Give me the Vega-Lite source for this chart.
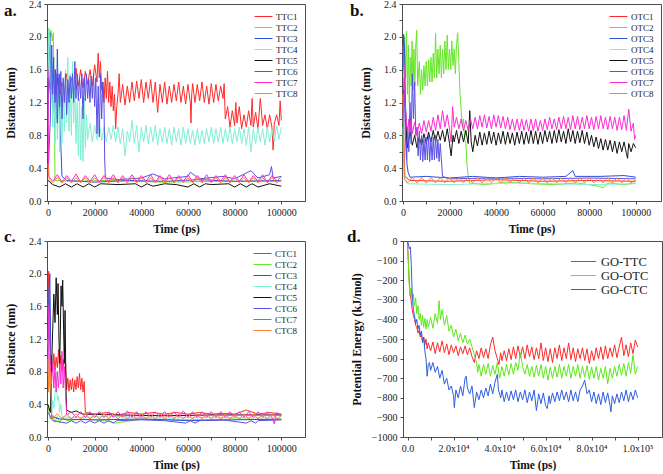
{
"$schema":"https://vega.github.io/schema/vega-lite/v6.json",
"padding":{"left":3,"top":-2,"right":0,"bottom":0},
"background":"white",
"config":{
"font":"Liberation Serif",
"view":{"stroke":"#4d4d4d","strokeWidth":1},
"axis":{"labelFont":"Liberation Serif","labelFontSize":10,"labelColor":"#222","titleFont":"Liberation Serif","titleFontWeight":"bold","titleColor":"#111","domainColor":"#4d4d4d","tickColor":"#4d4d4d","tickSize":3,"grid":false,"labelOverlap":false},
"axisX":{"labelPadding":3,"titleFontSize":11.5,"titlePadding":6,"minExtent":16,"maxExtent":16},
"axisY":{"labelPadding":3,"titleFontSize":12,"minExtent":24,"maxExtent":24,"titlePadding":6},
"legend":{"orient":"top-right","labelFont":"Liberation Serif","labelFontSize":9,"labelColor":"#222","symbolType":"M-1.8,0H1.8","symbolSize":100,"symbolStrokeWidth":2,"labelOffset":7,"rowPadding":0,"padding":0,"offset":7},
"title":{"font":"Liberation Serif","fontSize":17,"fontWeight":"bold","anchor":"start","frame":"bounds","color":"#111","offset":0},
"line":{"strokeWidth":1,"clip":true}
},
"datasets":{
"a":[
{"s":"TTC1","t":0,"v":1.65},{"s":"TTC1","t":1000,"v":1.3},{"s":"TTC1","t":2000,"v":1.55},{"s":"TTC1","t":3000,"v":1.2},{"s":"TTC1","t":4000,"v":1.5},{"s":"TTC1","t":5000,"v":1.25},{"s":"TTC1","t":6000,"v":1.45},{"s":"TTC1","t":7000,"v":1.3},{"s":"TTC1","t":8000,"v":1.55},{"s":"TTC1","t":9000,"v":1.35},{"s":"TTC1","t":10000,"v":1.5},{"s":"TTC1","t":11000,"v":1.3},{"s":"TTC1","t":12000,"v":1.62},{"s":"TTC1","t":13000,"v":1.4},{"s":"TTC1","t":14000,"v":1.6},{"s":"TTC1","t":15000,"v":1.38},{"s":"TTC1","t":16000,"v":1.58},{"s":"TTC1","t":17000,"v":1.42},{"s":"TTC1","t":18000,"v":1.6},{"s":"TTC1","t":19000,"v":1.4},{"s":"TTC1","t":20000,"v":1.66},{"s":"TTC1","t":21000,"v":1.45},{"s":"TTC1","t":21500,"v":1.8},{"s":"TTC1","t":22000,"v":1.5},{"s":"TTC1","t":22500,"v":1.7},{"s":"TTC1","t":23000,"v":1.35},{"s":"TTC1","t":23500,"v":1.45},{"s":"TTC1","t":24000,"v":1.2},{"s":"TTC1","t":24500,"v":1.5},{"s":"TTC1","t":25000,"v":1.25},{"s":"TTC1","t":25500,"v":1.58},{"s":"TTC1","t":26000,"v":1.2},{"s":"TTC1","t":26500,"v":1.45},{"s":"TTC1","t":27000,"v":1.15},{"s":"TTC1","t":27500,"v":1.4},{"s":"TTC1","t":28000,"v":1.1},{"s":"TTC1","t":28500,"v":1.3},{"s":"TTC1","t":29000,"v":0.88},{"s":"TTC1","t":29500,"v":1.15},{"s":"TTC1","t":30000,"v":1.3},{"s":"TTC1","t":30500,"v":1.55},{"s":"TTC1","t":31000,"v":1.2},{"s":"TTC1","t":32000,"v":1.42},{"s":"TTC1","t":33000,"v":1.17},{"s":"TTC1","t":34000,"v":1.4},{"s":"TTC1","t":35000,"v":1.2},{"s":"TTC1","t":36000,"v":1.45},{"s":"TTC1","t":37000,"v":1.22},{"s":"TTC1","t":38000,"v":1.46},{"s":"TTC1","t":39000,"v":1.25},{"s":"TTC1","t":40000,"v":1.48},{"s":"TTC1","t":41000,"v":1.2},{"s":"TTC1","t":42000,"v":1.45},{"s":"TTC1","t":43000,"v":1.25},{"s":"TTC1","t":44000,"v":1.48},{"s":"TTC1","t":45000,"v":1.2},{"s":"TTC1","t":46000,"v":1.45},{"s":"TTC1","t":47000,"v":1.08},{"s":"TTC1","t":48000,"v":1.42},{"s":"TTC1","t":49000,"v":1.2},{"s":"TTC1","t":50000,"v":1.45},{"s":"TTC1","t":51000,"v":1.18},{"s":"TTC1","t":52000,"v":1.4},{"s":"TTC1","t":53000,"v":1.2},{"s":"TTC1","t":54000,"v":1.42},{"s":"TTC1","t":55000,"v":1.22},{"s":"TTC1","t":56000,"v":1.45},{"s":"TTC1","t":57000,"v":1.2},{"s":"TTC1","t":58000,"v":1.4},{"s":"TTC1","t":59000,"v":1.18},{"s":"TTC1","t":60000,"v":1.42},{"s":"TTC1","t":61000,"v":1.2},{"s":"TTC1","t":61300,"v":0.95},{"s":"TTC1","t":61600,"v":1.3},{"s":"TTC1","t":62000,"v":1.43},{"s":"TTC1","t":63000,"v":1.2},{"s":"TTC1","t":64000,"v":1.42},{"s":"TTC1","t":65000,"v":1.22},{"s":"TTC1","t":66000,"v":1.45},{"s":"TTC1","t":67000,"v":1.2},{"s":"TTC1","t":68000,"v":1.4},{"s":"TTC1","t":69000,"v":1.18},{"s":"TTC1","t":70000,"v":1.43},{"s":"TTC1","t":71000,"v":1.2},{"s":"TTC1","t":72000,"v":1.42},{"s":"TTC1","t":73000,"v":1.22},{"s":"TTC1","t":74000,"v":1.4},{"s":"TTC1","t":75000,"v":1.25},{"s":"TTC1","t":75500,"v":1.43},{"s":"TTC1","t":76000,"v":1.0},{"s":"TTC1","t":77000,"v":1.15},{"s":"TTC1","t":78000,"v":0.9},{"s":"TTC1","t":79000,"v":1.1},{"s":"TTC1","t":80000,"v":0.92},{"s":"TTC1","t":80500,"v":1.2},{"s":"TTC1","t":81000,"v":0.95},{"s":"TTC1","t":82000,"v":1.15},{"s":"TTC1","t":83000,"v":0.88},{"s":"TTC1","t":84000,"v":1.05},{"s":"TTC1","t":85000,"v":0.9},{"s":"TTC1","t":86000,"v":1.1},{"s":"TTC1","t":87000,"v":0.92},{"s":"TTC1","t":87500,"v":1.25},{"s":"TTC1","t":88000,"v":0.9},{"s":"TTC1","t":89000,"v":1.08},{"s":"TTC1","t":90000,"v":0.88},{"s":"TTC1","t":91000,"v":1.25},{"s":"TTC1","t":92000,"v":0.92},{"s":"TTC1","t":93000,"v":1.05},{"s":"TTC1","t":94000,"v":0.88},{"s":"TTC1","t":95000,"v":1.05},{"s":"TTC1","t":96000,"v":0.9},{"s":"TTC1","t":96500,"v":0.62},{"s":"TTC1","t":97000,"v":0.95},{"s":"TTC1","t":98000,"v":1.05},{"s":"TTC1","t":99000,"v":0.92},{"s":"TTC1","t":99500,"v":1.22},{"s":"TTC1","t":100000,"v":0.98},
{"s":"TTC2","t":0,"v":1.8},{"s":"TTC2","t":300,"v":2.1},{"s":"TTC2","t":800,"v":2.0},{"s":"TTC2","t":1300,"v":2.08},{"s":"TTC2","t":1800,"v":1.95},{"s":"TTC2","t":2300,"v":2.05},{"s":"TTC2","t":2700,"v":1.2},{"s":"TTC2","t":3000,"v":0.25},{"s":"TTC2","t":10000,"v":0.24},{"s":"TTC2","t":25000,"v":0.25},{"s":"TTC2","t":50000,"v":0.23},{"s":"TTC2","t":75000,"v":0.24},{"s":"TTC2","t":100000,"v":0.24},
{"s":"TTC3","t":0,"v":1.0},{"s":"TTC3","t":400,"v":1.7},{"s":"TTC3","t":800,"v":2.05},{"s":"TTC3","t":1200,"v":1.4},{"s":"TTC3","t":1600,"v":1.9},{"s":"TTC3","t":2000,"v":1.1},{"s":"TTC3","t":2400,"v":1.75},{"s":"TTC3","t":2800,"v":0.9},{"s":"TTC3","t":3200,"v":1.6},{"s":"TTC3","t":3600,"v":1.0},{"s":"TTC3","t":4000,"v":1.85},{"s":"TTC3","t":4400,"v":1.2},{"s":"TTC3","t":4800,"v":1.55},{"s":"TTC3","t":5200,"v":0.9},{"s":"TTC3","t":5600,"v":0.6},{"s":"TTC3","t":6000,"v":0.3},{"s":"TTC3","t":8000,"v":0.25},{"s":"TTC3","t":20000,"v":0.23},{"s":"TTC3","t":35000,"v":0.25},{"s":"TTC3","t":50000,"v":0.24},{"s":"TTC3","t":65000,"v":0.26},{"s":"TTC3","t":80000,"v":0.24},{"s":"TTC3","t":100000,"v":0.25},
{"s":"TTC4","t":0,"v":1.5},{"s":"TTC4","t":400,"v":2.1},{"s":"TTC4","t":800,"v":1.85},{"s":"TTC4","t":1200,"v":1.2},{"s":"TTC4","t":1600,"v":1.75},{"s":"TTC4","t":2000,"v":0.9},{"s":"TTC4","t":2500,"v":1.5},{"s":"TTC4","t":3000,"v":0.7},{"s":"TTC4","t":3500,"v":1.3},{"s":"TTC4","t":4000,"v":0.75},{"s":"TTC4","t":4500,"v":1.45},{"s":"TTC4","t":5000,"v":0.6},{"s":"TTC4","t":5500,"v":1.3},{"s":"TTC4","t":6000,"v":0.7},{"s":"TTC4","t":6500,"v":1.45},{"s":"TTC4","t":7000,"v":0.85},{"s":"TTC4","t":7500,"v":1.6},{"s":"TTC4","t":8000,"v":0.95},{"s":"TTC4","t":8500,"v":1.75},{"s":"TTC4","t":9000,"v":0.85},{"s":"TTC4","t":9500,"v":1.55},{"s":"TTC4","t":10000,"v":0.8},{"s":"TTC4","t":10500,"v":1.7},{"s":"TTC4","t":11000,"v":0.95},{"s":"TTC4","t":11500,"v":1.45},{"s":"TTC4","t":12000,"v":0.7},{"s":"TTC4","t":12500,"v":1.2},{"s":"TTC4","t":13000,"v":0.55},{"s":"TTC4","t":13500,"v":1.25},{"s":"TTC4","t":14000,"v":0.5},{"s":"TTC4","t":14500,"v":1.15},{"s":"TTC4","t":15000,"v":0.48},{"s":"TTC4","t":15500,"v":1.25},{"s":"TTC4","t":16000,"v":0.65},{"s":"TTC4","t":16500,"v":1.05},{"s":"TTC4","t":17000,"v":0.75},{"s":"TTC4","t":18000,"v":0.95},{"s":"TTC4","t":19000,"v":0.72},{"s":"TTC4","t":20000,"v":0.92},{"s":"TTC4","t":21000,"v":0.75},{"s":"TTC4","t":22000,"v":0.95},{"s":"TTC4","t":23000,"v":0.74},{"s":"TTC4","t":24000,"v":0.9},{"s":"TTC4","t":25000,"v":0.72},{"s":"TTC4","t":26000,"v":0.9},{"s":"TTC4","t":27000,"v":0.75},{"s":"TTC4","t":28000,"v":0.92},{"s":"TTC4","t":29000,"v":0.72},{"s":"TTC4","t":30000,"v":0.9},{"s":"TTC4","t":31000,"v":0.7},{"s":"TTC4","t":32000,"v":0.88},{"s":"TTC4","t":33000,"v":0.55},{"s":"TTC4","t":34000,"v":0.85},{"s":"TTC4","t":35000,"v":0.72},{"s":"TTC4","t":36000,"v":0.98},{"s":"TTC4","t":37000,"v":0.7},{"s":"TTC4","t":38000,"v":0.92},{"s":"TTC4","t":39000,"v":0.6},{"s":"TTC4","t":40000,"v":0.9},{"s":"TTC4","t":41000,"v":0.72},{"s":"TTC4","t":42000,"v":0.92},{"s":"TTC4","t":43000,"v":0.7},{"s":"TTC4","t":44000,"v":0.9},{"s":"TTC4","t":45000,"v":0.72},{"s":"TTC4","t":46000,"v":0.92},{"s":"TTC4","t":47000,"v":0.68},{"s":"TTC4","t":48000,"v":0.88},{"s":"TTC4","t":49000,"v":0.72},{"s":"TTC4","t":50000,"v":0.9},{"s":"TTC4","t":51000,"v":0.7},{"s":"TTC4","t":52000,"v":0.88},{"s":"TTC4","t":53000,"v":0.68},{"s":"TTC4","t":54000,"v":0.9},{"s":"TTC4","t":55000,"v":0.72},{"s":"TTC4","t":56000,"v":0.88},{"s":"TTC4","t":57000,"v":0.68},{"s":"TTC4","t":58000,"v":0.9},{"s":"TTC4","t":59000,"v":0.7},{"s":"TTC4","t":60000,"v":0.88},{"s":"TTC4","t":61000,"v":0.7},{"s":"TTC4","t":62000,"v":0.86},{"s":"TTC4","t":63000,"v":0.68},{"s":"TTC4","t":64000,"v":0.88},{"s":"TTC4","t":65000,"v":0.7},{"s":"TTC4","t":66000,"v":0.86},{"s":"TTC4","t":67000,"v":0.7},{"s":"TTC4","t":68000,"v":0.88},{"s":"TTC4","t":69000,"v":0.72},{"s":"TTC4","t":70000,"v":0.9},{"s":"TTC4","t":71000,"v":0.7},{"s":"TTC4","t":72000,"v":0.88},{"s":"TTC4","t":73000,"v":0.72},{"s":"TTC4","t":74000,"v":0.9},{"s":"TTC4","t":75000,"v":0.7},{"s":"TTC4","t":76000,"v":0.88},{"s":"TTC4","t":77000,"v":0.72},{"s":"TTC4","t":78000,"v":0.9},{"s":"TTC4","t":79000,"v":0.7},{"s":"TTC4","t":80000,"v":0.88},{"s":"TTC4","t":81000,"v":0.72},{"s":"TTC4","t":82000,"v":0.9},{"s":"TTC4","t":83000,"v":0.7},{"s":"TTC4","t":84000,"v":0.88},{"s":"TTC4","t":85000,"v":0.68},{"s":"TTC4","t":86000,"v":0.9},{"s":"TTC4","t":87000,"v":0.6},{"s":"TTC4","t":88000,"v":0.88},{"s":"TTC4","t":89000,"v":0.7},{"s":"TTC4","t":90000,"v":0.9},{"s":"TTC4","t":91000,"v":0.72},{"s":"TTC4","t":92000,"v":0.88},{"s":"TTC4","t":93000,"v":0.68},{"s":"TTC4","t":94000,"v":0.9},{"s":"TTC4","t":95000,"v":0.72},{"s":"TTC4","t":96000,"v":0.88},{"s":"TTC4","t":97000,"v":0.72},{"s":"TTC4","t":98000,"v":0.92},{"s":"TTC4","t":99000,"v":0.75},{"s":"TTC4","t":100000,"v":0.9},
{"s":"TTC5","t":0,"v":0.25},{"s":"TTC5","t":2000,"v":0.2},{"s":"TTC5","t":5000,"v":0.17},{"s":"TTC5","t":7500,"v":0.21},{"s":"TTC5","t":10000,"v":0.17},{"s":"TTC5","t":12500,"v":0.21},{"s":"TTC5","t":15000,"v":0.17},{"s":"TTC5","t":17500,"v":0.21},{"s":"TTC5","t":20000,"v":0.17},{"s":"TTC5","t":22500,"v":0.21},{"s":"TTC5","t":30000,"v":0.2},{"s":"TTC5","t":37500,"v":0.21},{"s":"TTC5","t":40000,"v":0.17},{"s":"TTC5","t":42500,"v":0.21},{"s":"TTC5","t":45000,"v":0.18},{"s":"TTC5","t":50000,"v":0.21},{"s":"TTC5","t":55000,"v":0.2},{"s":"TTC5","t":60000,"v":0.17},{"s":"TTC5","t":62500,"v":0.21},{"s":"TTC5","t":65000,"v":0.17},{"s":"TTC5","t":67500,"v":0.21},{"s":"TTC5","t":70000,"v":0.2},{"s":"TTC5","t":77500,"v":0.21},{"s":"TTC5","t":80000,"v":0.17},{"s":"TTC5","t":82500,"v":0.21},{"s":"TTC5","t":85000,"v":0.17},{"s":"TTC5","t":87500,"v":0.21},{"s":"TTC5","t":90000,"v":0.17},{"s":"TTC5","t":95000,"v":0.21},{"s":"TTC5","t":100000,"v":0.18},
{"s":"TTC6","t":0,"v":0.3},{"s":"TTC6","t":1000,"v":1.0},{"s":"TTC6","t":1500,"v":1.85},{"s":"TTC6","t":2000,"v":1.3},{"s":"TTC6","t":2500,"v":1.6},{"s":"TTC6","t":3000,"v":1.2},{"s":"TTC6","t":3500,"v":1.55},{"s":"TTC6","t":4000,"v":0.95},{"s":"TTC6","t":4500,"v":1.5},{"s":"TTC6","t":5000,"v":1.15},{"s":"TTC6","t":5500,"v":1.58},{"s":"TTC6","t":6000,"v":1.0},{"s":"TTC6","t":6500,"v":1.5},{"s":"TTC6","t":7000,"v":1.2},{"s":"TTC6","t":7500,"v":1.55},{"s":"TTC6","t":8000,"v":1.05},{"s":"TTC6","t":8500,"v":1.48},{"s":"TTC6","t":9000,"v":1.2},{"s":"TTC6","t":9500,"v":1.52},{"s":"TTC6","t":10000,"v":1.25},{"s":"TTC6","t":10500,"v":1.55},{"s":"TTC6","t":11000,"v":1.2},{"s":"TTC6","t":11500,"v":1.7},{"s":"TTC6","t":12000,"v":1.25},{"s":"TTC6","t":12500,"v":1.55},{"s":"TTC6","t":13000,"v":1.22},{"s":"TTC6","t":13500,"v":1.5},{"s":"TTC6","t":14000,"v":1.25},{"s":"TTC6","t":14500,"v":1.55},{"s":"TTC6","t":15000,"v":1.0},{"s":"TTC6","t":15500,"v":1.5},{"s":"TTC6","t":16000,"v":1.22},{"s":"TTC6","t":16500,"v":1.55},{"s":"TTC6","t":17000,"v":1.25},{"s":"TTC6","t":17500,"v":1.48},{"s":"TTC6","t":18000,"v":1.2},{"s":"TTC6","t":18500,"v":1.52},{"s":"TTC6","t":19000,"v":1.25},{"s":"TTC6","t":19500,"v":1.55},{"s":"TTC6","t":20000,"v":1.15},{"s":"TTC6","t":20500,"v":1.5},{"s":"TTC6","t":21000,"v":0.82},{"s":"TTC6","t":21500,"v":1.4},{"s":"TTC6","t":22000,"v":0.78},{"s":"TTC6","t":22500,"v":1.55},{"s":"TTC6","t":23000,"v":1.0},{"s":"TTC6","t":23500,"v":1.45},{"s":"TTC6","t":24000,"v":1.2},{"s":"TTC6","t":24300,"v":0.5},{"s":"TTC6","t":24600,"v":0.28},{"s":"TTC6","t":30000,"v":0.26},{"s":"TTC6","t":40000,"v":0.28},{"s":"TTC6","t":45000,"v":0.33},{"s":"TTC6","t":50000,"v":0.27},{"s":"TTC6","t":60000,"v":0.3},{"s":"TTC6","t":61000,"v":0.35},{"s":"TTC6","t":65000,"v":0.27},{"s":"TTC6","t":75000,"v":0.3},{"s":"TTC6","t":80000,"v":0.27},{"s":"TTC6","t":87000,"v":0.37},{"s":"TTC6","t":90000,"v":0.28},{"s":"TTC6","t":95000,"v":0.32},{"s":"TTC6","t":95800,"v":0.42},{"s":"TTC6","t":96500,"v":0.28},{"s":"TTC6","t":100000,"v":0.3},
{"s":"TTC7","t":0,"v":1.6},{"s":"TTC7","t":300,"v":0.3},{"s":"TTC7","t":2000,"v":0.24},{"s":"TTC7","t":4000,"v":0.32},{"s":"TTC7","t":6000,"v":0.23},{"s":"TTC7","t":8000,"v":0.31},{"s":"TTC7","t":10000,"v":0.24},{"s":"TTC7","t":12000,"v":0.33},{"s":"TTC7","t":14000,"v":0.23},{"s":"TTC7","t":16000,"v":0.31},{"s":"TTC7","t":18000,"v":0.24},{"s":"TTC7","t":20000,"v":0.32},{"s":"TTC7","t":22000,"v":0.23},{"s":"TTC7","t":24000,"v":0.31},{"s":"TTC7","t":26000,"v":0.24},{"s":"TTC7","t":28000,"v":0.32},{"s":"TTC7","t":30000,"v":0.23},{"s":"TTC7","t":32000,"v":0.31},{"s":"TTC7","t":34000,"v":0.24},{"s":"TTC7","t":36000,"v":0.32},{"s":"TTC7","t":38000,"v":0.23},{"s":"TTC7","t":40000,"v":0.31},{"s":"TTC7","t":42000,"v":0.24},{"s":"TTC7","t":44000,"v":0.32},{"s":"TTC7","t":46000,"v":0.23},{"s":"TTC7","t":48000,"v":0.31},{"s":"TTC7","t":50000,"v":0.24},{"s":"TTC7","t":52000,"v":0.32},{"s":"TTC7","t":54000,"v":0.23},{"s":"TTC7","t":56000,"v":0.31},{"s":"TTC7","t":58000,"v":0.24},{"s":"TTC7","t":60000,"v":0.32},{"s":"TTC7","t":62000,"v":0.23},{"s":"TTC7","t":64000,"v":0.31},{"s":"TTC7","t":66000,"v":0.24},{"s":"TTC7","t":68000,"v":0.32},{"s":"TTC7","t":70000,"v":0.23},{"s":"TTC7","t":72000,"v":0.31},{"s":"TTC7","t":74000,"v":0.24},{"s":"TTC7","t":76000,"v":0.32},{"s":"TTC7","t":78000,"v":0.23},{"s":"TTC7","t":80000,"v":0.31},{"s":"TTC7","t":82000,"v":0.24},{"s":"TTC7","t":84000,"v":0.32},{"s":"TTC7","t":86000,"v":0.23},{"s":"TTC7","t":88000,"v":0.31},{"s":"TTC7","t":90000,"v":0.24},{"s":"TTC7","t":92000,"v":0.32},{"s":"TTC7","t":94000,"v":0.23},{"s":"TTC7","t":96000,"v":0.31},{"s":"TTC7","t":98000,"v":0.24},{"s":"TTC7","t":100000,"v":0.3},
{"s":"TTC8","t":0,"v":0.45},{"s":"TTC8","t":500,"v":0.26},{"s":"TTC8","t":2000,"v":0.22},{"s":"TTC8","t":4000,"v":0.285},{"s":"TTC8","t":6000,"v":0.22},{"s":"TTC8","t":8000,"v":0.285},{"s":"TTC8","t":10000,"v":0.22},{"s":"TTC8","t":12000,"v":0.285},{"s":"TTC8","t":14000,"v":0.22},{"s":"TTC8","t":16000,"v":0.285},{"s":"TTC8","t":18000,"v":0.22},{"s":"TTC8","t":20000,"v":0.285},{"s":"TTC8","t":22000,"v":0.22},{"s":"TTC8","t":24000,"v":0.285},{"s":"TTC8","t":26000,"v":0.22},{"s":"TTC8","t":28000,"v":0.285},{"s":"TTC8","t":30000,"v":0.22},{"s":"TTC8","t":32000,"v":0.285},{"s":"TTC8","t":34000,"v":0.22},{"s":"TTC8","t":36000,"v":0.285},{"s":"TTC8","t":38000,"v":0.22},{"s":"TTC8","t":40000,"v":0.285},{"s":"TTC8","t":42000,"v":0.22},{"s":"TTC8","t":44000,"v":0.285},{"s":"TTC8","t":46000,"v":0.22},{"s":"TTC8","t":48000,"v":0.285},{"s":"TTC8","t":50000,"v":0.22},{"s":"TTC8","t":52000,"v":0.285},{"s":"TTC8","t":54000,"v":0.22},{"s":"TTC8","t":56000,"v":0.285},{"s":"TTC8","t":58000,"v":0.22},{"s":"TTC8","t":60000,"v":0.285},{"s":"TTC8","t":62000,"v":0.22},{"s":"TTC8","t":64000,"v":0.285},{"s":"TTC8","t":66000,"v":0.22},{"s":"TTC8","t":68000,"v":0.285},{"s":"TTC8","t":70000,"v":0.22},{"s":"TTC8","t":72000,"v":0.285},{"s":"TTC8","t":74000,"v":0.22},{"s":"TTC8","t":76000,"v":0.285},{"s":"TTC8","t":78000,"v":0.22},{"s":"TTC8","t":80000,"v":0.285},{"s":"TTC8","t":82000,"v":0.22},{"s":"TTC8","t":84000,"v":0.285},{"s":"TTC8","t":86000,"v":0.22},{"s":"TTC8","t":88000,"v":0.285},{"s":"TTC8","t":90000,"v":0.22},{"s":"TTC8","t":92000,"v":0.285},{"s":"TTC8","t":94000,"v":0.22},{"s":"TTC8","t":96000,"v":0.285},{"s":"TTC8","t":98000,"v":0.22},{"s":"TTC8","t":100000,"v":0.26}
],
"b":[
{"s":"OTC1","t":0,"v":1.3},{"s":"OTC1","t":300,"v":0.8},{"s":"OTC1","t":800,"v":0.3},{"s":"OTC1","t":3000,"v":0.25},{"s":"OTC1","t":20000,"v":0.24},{"s":"OTC1","t":40000,"v":0.26},{"s":"OTC1","t":60000,"v":0.24},{"s":"OTC1","t":80000,"v":0.25},{"s":"OTC1","t":100000,"v":0.24},
{"s":"OTC2","t":0,"v":0.6},{"s":"OTC2","t":300,"v":1.2},{"s":"OTC2","t":700,"v":2.0},{"s":"OTC2","t":1100,"v":1.5},{"s":"OTC2","t":1500,"v":2.07},{"s":"OTC2","t":1900,"v":1.3},{"s":"OTC2","t":2300,"v":1.9},{"s":"OTC2","t":2700,"v":1.2},{"s":"OTC2","t":3100,"v":1.75},{"s":"OTC2","t":3500,"v":1.4},{"s":"OTC2","t":3900,"v":1.95},{"s":"OTC2","t":4300,"v":1.35},{"s":"OTC2","t":4700,"v":1.85},{"s":"OTC2","t":5100,"v":1.4},{"s":"OTC2","t":5500,"v":1.9},{"s":"OTC2","t":5900,"v":2.08},{"s":"OTC2","t":6300,"v":1.4},{"s":"OTC2","t":7000,"v":1.7},{"s":"OTC2","t":7500,"v":1.3},{"s":"OTC2","t":8000,"v":1.6},{"s":"OTC2","t":8500,"v":1.35},{"s":"OTC2","t":9000,"v":1.65},{"s":"OTC2","t":9500,"v":1.4},{"s":"OTC2","t":10000,"v":1.7},{"s":"OTC2","t":10500,"v":1.4},{"s":"OTC2","t":11000,"v":1.72},{"s":"OTC2","t":11500,"v":1.45},{"s":"OTC2","t":12000,"v":1.75},{"s":"OTC2","t":12500,"v":1.45},{"s":"OTC2","t":13000,"v":1.8},{"s":"OTC2","t":13500,"v":1.5},{"s":"OTC2","t":14000,"v":2.04},{"s":"OTC2","t":14500,"v":1.5},{"s":"OTC2","t":15000,"v":1.85},{"s":"OTC2","t":15500,"v":1.55},{"s":"OTC2","t":16000,"v":1.9},{"s":"OTC2","t":16500,"v":1.5},{"s":"OTC2","t":17000,"v":1.85},{"s":"OTC2","t":17500,"v":1.55},{"s":"OTC2","t":18000,"v":1.95},{"s":"OTC2","t":18500,"v":1.6},{"s":"OTC2","t":19000,"v":2.02},{"s":"OTC2","t":19500,"v":1.6},{"s":"OTC2","t":20000,"v":1.85},{"s":"OTC2","t":20500,"v":1.6},{"s":"OTC2","t":21000,"v":1.95},{"s":"OTC2","t":21500,"v":1.65},{"s":"OTC2","t":22000,"v":1.85},{"s":"OTC2","t":22500,"v":1.55},{"s":"OTC2","t":23000,"v":1.9},{"s":"OTC2","t":23500,"v":2.05},{"s":"OTC2","t":24000,"v":1.7},{"s":"OTC2","t":24500,"v":1.3},{"s":"OTC2","t":25000,"v":1.1},{"s":"OTC2","t":25500,"v":0.9},{"s":"OTC2","t":26000,"v":1.0},{"s":"OTC2","t":26500,"v":0.75},{"s":"OTC2","t":27000,"v":0.7},{"s":"OTC2","t":27500,"v":0.45},{"s":"OTC2","t":28000,"v":0.3},{"s":"OTC2","t":28500,"v":0.22},{"s":"OTC2","t":35000,"v":0.2},{"s":"OTC2","t":45000,"v":0.23},{"s":"OTC2","t":55000,"v":0.21},{"s":"OTC2","t":65000,"v":0.2},{"s":"OTC2","t":75000,"v":0.22},{"s":"OTC2","t":84000,"v":0.18},{"s":"OTC2","t":86000,"v":0.16},{"s":"OTC2","t":88000,"v":0.22},{"s":"OTC2","t":95000,"v":0.2},{"s":"OTC2","t":100000,"v":0.22},
{"s":"OTC3","t":0,"v":1.6},{"s":"OTC3","t":300,"v":2.03},{"s":"OTC3","t":700,"v":1.8},{"s":"OTC3","t":1200,"v":1.0},{"s":"OTC3","t":1700,"v":0.45},{"s":"OTC3","t":2200,"v":0.35},{"s":"OTC3","t":3000,"v":0.29},{"s":"OTC3","t":10000,"v":0.3},{"s":"OTC3","t":20000,"v":0.28},{"s":"OTC3","t":30000,"v":0.3},{"s":"OTC3","t":40000,"v":0.28},{"s":"OTC3","t":50000,"v":0.3},{"s":"OTC3","t":60000,"v":0.29},{"s":"OTC3","t":70000,"v":0.3},{"s":"OTC3","t":73000,"v":0.37},{"s":"OTC3","t":74000,"v":0.3},{"s":"OTC3","t":85000,"v":0.3},{"s":"OTC3","t":95000,"v":0.31},{"s":"OTC3","t":100000,"v":0.29},
{"s":"OTC4","t":0,"v":1.0},{"s":"OTC4","t":500,"v":0.3},{"s":"OTC4","t":2000,"v":0.21},{"s":"OTC4","t":20000,"v":0.2},{"s":"OTC4","t":50000,"v":0.22},{"s":"OTC4","t":80000,"v":0.2},{"s":"OTC4","t":100000,"v":0.21},
{"s":"OTC5","t":0,"v":0.9},{"s":"OTC5","t":500,"v":1.35},{"s":"OTC5","t":1000,"v":1.2},{"s":"OTC5","t":1500,"v":0.8},{"s":"OTC5","t":2000,"v":0.65},{"s":"OTC5","t":3000,"v":0.85},{"s":"OTC5","t":4000,"v":0.68},{"s":"OTC5","t":5000,"v":0.8},{"s":"OTC5","t":6000,"v":0.65},{"s":"OTC5","t":7000,"v":0.78},{"s":"OTC5","t":8000,"v":0.68},{"s":"OTC5","t":9000,"v":0.82},{"s":"OTC5","t":10000,"v":0.7},{"s":"OTC5","t":11000,"v":0.84},{"s":"OTC5","t":12000,"v":0.72},{"s":"OTC5","t":13000,"v":0.86},{"s":"OTC5","t":14000,"v":0.72},{"s":"OTC5","t":15000,"v":0.85},{"s":"OTC5","t":16000,"v":0.74},{"s":"OTC5","t":17000,"v":0.86},{"s":"OTC5","t":18000,"v":0.72},{"s":"OTC5","t":19000,"v":0.88},{"s":"OTC5","t":20000,"v":0.7},{"s":"OTC5","t":20700,"v":0.55},{"s":"OTC5","t":21500,"v":0.8},{"s":"OTC5","t":22000,"v":0.72},{"s":"OTC5","t":23000,"v":0.86},{"s":"OTC5","t":24000,"v":0.7},{"s":"OTC5","t":25000,"v":0.85},{"s":"OTC5","t":26000,"v":0.72},{"s":"OTC5","t":27000,"v":0.86},{"s":"OTC5","t":28000,"v":0.7},{"s":"OTC5","t":28700,"v":1.1},{"s":"OTC5","t":29300,"v":0.72},{"s":"OTC5","t":30000,"v":0.6},{"s":"OTC5","t":31000,"v":0.8},{"s":"OTC5","t":32000,"v":0.67},{"s":"OTC5","t":33000,"v":0.84},{"s":"OTC5","t":34000,"v":0.68},{"s":"OTC5","t":35000,"v":0.83},{"s":"OTC5","t":36000,"v":0.69},{"s":"OTC5","t":37000,"v":0.85},{"s":"OTC5","t":38000,"v":0.7},{"s":"OTC5","t":39000,"v":0.84},{"s":"OTC5","t":40000,"v":0.68},{"s":"OTC5","t":41000,"v":0.83},{"s":"OTC5","t":42000,"v":0.7},{"s":"OTC5","t":43000,"v":0.85},{"s":"OTC5","t":44000,"v":0.69},{"s":"OTC5","t":45000,"v":0.84},{"s":"OTC5","t":46000,"v":0.7},{"s":"OTC5","t":47000,"v":0.83},{"s":"OTC5","t":48000,"v":0.68},{"s":"OTC5","t":49000,"v":0.84},{"s":"OTC5","t":50000,"v":0.7},{"s":"OTC5","t":51000,"v":0.85},{"s":"OTC5","t":52000,"v":0.69},{"s":"OTC5","t":53000,"v":0.84},{"s":"OTC5","t":54000,"v":0.7},{"s":"OTC5","t":55000,"v":0.86},{"s":"OTC5","t":56000,"v":0.7},{"s":"OTC5","t":57000,"v":0.85},{"s":"OTC5","t":58000,"v":0.69},{"s":"OTC5","t":59000,"v":0.84},{"s":"OTC5","t":60000,"v":0.7},{"s":"OTC5","t":61000,"v":0.86},{"s":"OTC5","t":62000,"v":0.72},{"s":"OTC5","t":63000,"v":0.85},{"s":"OTC5","t":64000,"v":0.7},{"s":"OTC5","t":65000,"v":0.86},{"s":"OTC5","t":66000,"v":0.71},{"s":"OTC5","t":67000,"v":0.87},{"s":"OTC5","t":68000,"v":0.72},{"s":"OTC5","t":69000,"v":0.85},{"s":"OTC5","t":70000,"v":0.7},{"s":"OTC5","t":71000,"v":0.88},{"s":"OTC5","t":72000,"v":0.72},{"s":"OTC5","t":73000,"v":0.86},{"s":"OTC5","t":74000,"v":0.7},{"s":"OTC5","t":75000,"v":0.85},{"s":"OTC5","t":76000,"v":0.71},{"s":"OTC5","t":77000,"v":0.86},{"s":"OTC5","t":78000,"v":0.7},{"s":"OTC5","t":79000,"v":0.84},{"s":"OTC5","t":80000,"v":0.68},{"s":"OTC5","t":81000,"v":0.8},{"s":"OTC5","t":82000,"v":0.66},{"s":"OTC5","t":83000,"v":0.78},{"s":"OTC5","t":84000,"v":0.64},{"s":"OTC5","t":85000,"v":0.76},{"s":"OTC5","t":86000,"v":0.62},{"s":"OTC5","t":87000,"v":0.75},{"s":"OTC5","t":88000,"v":0.62},{"s":"OTC5","t":89000,"v":0.74},{"s":"OTC5","t":90000,"v":0.6},{"s":"OTC5","t":91000,"v":0.73},{"s":"OTC5","t":92000,"v":0.58},{"s":"OTC5","t":93000,"v":0.72},{"s":"OTC5","t":94000,"v":0.6},{"s":"OTC5","t":95000,"v":0.72},{"s":"OTC5","t":96000,"v":0.58},{"s":"OTC5","t":96500,"v":0.52},{"s":"OTC5","t":97000,"v":0.7},{"s":"OTC5","t":98000,"v":0.6},{"s":"OTC5","t":99000,"v":0.7},{"s":"OTC5","t":100000,"v":0.65},
{"s":"OTC6","t":0,"v":1.0},{"s":"OTC6","t":500,"v":1.5},{"s":"OTC6","t":1000,"v":0.8},{"s":"OTC6","t":1500,"v":0.5},{"s":"OTC6","t":2000,"v":0.9},{"s":"OTC6","t":2500,"v":0.6},{"s":"OTC6","t":3000,"v":1.2},{"s":"OTC6","t":3500,"v":0.7},{"s":"OTC6","t":4000,"v":1.55},{"s":"OTC6","t":4500,"v":1.0},{"s":"OTC6","t":5000,"v":1.45},{"s":"OTC6","t":5500,"v":0.8},{"s":"OTC6","t":6000,"v":0.9},{"s":"OTC6","t":6500,"v":0.55},{"s":"OTC6","t":7000,"v":0.85},{"s":"OTC6","t":7500,"v":0.5},{"s":"OTC6","t":8000,"v":0.8},{"s":"OTC6","t":8500,"v":0.48},{"s":"OTC6","t":9000,"v":0.75},{"s":"OTC6","t":9500,"v":0.5},{"s":"OTC6","t":10000,"v":0.78},{"s":"OTC6","t":10500,"v":0.5},{"s":"OTC6","t":11000,"v":0.8},{"s":"OTC6","t":11500,"v":0.48},{"s":"OTC6","t":12000,"v":0.76},{"s":"OTC6","t":12500,"v":0.5},{"s":"OTC6","t":13000,"v":0.78},{"s":"OTC6","t":13500,"v":0.5},{"s":"OTC6","t":14000,"v":0.8},{"s":"OTC6","t":14500,"v":0.52},{"s":"OTC6","t":15000,"v":0.75},{"s":"OTC6","t":15500,"v":0.48},{"s":"OTC6","t":16000,"v":0.7},{"s":"OTC6","t":16500,"v":0.5},{"s":"OTC6","t":17000,"v":0.3},{"s":"OTC6","t":20000,"v":0.27},{"s":"OTC6","t":40000,"v":0.28},{"s":"OTC6","t":60000,"v":0.27},{"s":"OTC6","t":80000,"v":0.28},{"s":"OTC6","t":100000,"v":0.27},
{"s":"OTC7","t":0,"v":1.9},{"s":"OTC7","t":300,"v":1.7},{"s":"OTC7","t":700,"v":1.4},{"s":"OTC7","t":1100,"v":1.1},{"s":"OTC7","t":1500,"v":0.95},{"s":"OTC7","t":2000,"v":0.82},{"s":"OTC7","t":2500,"v":1.0},{"s":"OTC7","t":3000,"v":0.84},{"s":"OTC7","t":3500,"v":0.98},{"s":"OTC7","t":4000,"v":0.82},{"s":"OTC7","t":5000,"v":0.96},{"s":"OTC7","t":6000,"v":0.8},{"s":"OTC7","t":7000,"v":0.95},{"s":"OTC7","t":8000,"v":0.82},{"s":"OTC7","t":9000,"v":0.98},{"s":"OTC7","t":10000,"v":0.84},{"s":"OTC7","t":11000,"v":0.98},{"s":"OTC7","t":12000,"v":0.85},{"s":"OTC7","t":13000,"v":1.02},{"s":"OTC7","t":14000,"v":0.86},{"s":"OTC7","t":15000,"v":1.05},{"s":"OTC7","t":16000,"v":0.88},{"s":"OTC7","t":17000,"v":1.1},{"s":"OTC7","t":18000,"v":0.9},{"s":"OTC7","t":19000,"v":1.05},{"s":"OTC7","t":20000,"v":0.88},{"s":"OTC7","t":20700,"v":0.72},{"s":"OTC7","t":21300,"v":1.15},{"s":"OTC7","t":22000,"v":0.9},{"s":"OTC7","t":23000,"v":1.02},{"s":"OTC7","t":24000,"v":0.88},{"s":"OTC7","t":25000,"v":1.0},{"s":"OTC7","t":26000,"v":0.86},{"s":"OTC7","t":27000,"v":0.98},{"s":"OTC7","t":28000,"v":0.86},{"s":"OTC7","t":29000,"v":1.0},{"s":"OTC7","t":30000,"v":0.88},{"s":"OTC7","t":31000,"v":1.02},{"s":"OTC7","t":32000,"v":0.88},{"s":"OTC7","t":33000,"v":1.04},{"s":"OTC7","t":34000,"v":0.9},{"s":"OTC7","t":35000,"v":1.05},{"s":"OTC7","t":36000,"v":0.89},{"s":"OTC7","t":37000,"v":1.03},{"s":"OTC7","t":38000,"v":0.88},{"s":"OTC7","t":39000,"v":1.05},{"s":"OTC7","t":40000,"v":0.9},{"s":"OTC7","t":41000,"v":1.04},{"s":"OTC7","t":42000,"v":0.89},{"s":"OTC7","t":43000,"v":1.03},{"s":"OTC7","t":44000,"v":0.88},{"s":"OTC7","t":45000,"v":1.02},{"s":"OTC7","t":46000,"v":0.87},{"s":"OTC7","t":47000,"v":1.0},{"s":"OTC7","t":48000,"v":0.86},{"s":"OTC7","t":49000,"v":1.0},{"s":"OTC7","t":50000,"v":0.86},{"s":"OTC7","t":51000,"v":1.0},{"s":"OTC7","t":52000,"v":0.86},{"s":"OTC7","t":53000,"v":0.99},{"s":"OTC7","t":54000,"v":0.85},{"s":"OTC7","t":55000,"v":1.0},{"s":"OTC7","t":56000,"v":0.86},{"s":"OTC7","t":57000,"v":1.0},{"s":"OTC7","t":58000,"v":0.85},{"s":"OTC7","t":59000,"v":0.98},{"s":"OTC7","t":60000,"v":0.86},{"s":"OTC7","t":61000,"v":1.0},{"s":"OTC7","t":62000,"v":0.87},{"s":"OTC7","t":63000,"v":1.02},{"s":"OTC7","t":64000,"v":0.88},{"s":"OTC7","t":65000,"v":1.0},{"s":"OTC7","t":66000,"v":0.87},{"s":"OTC7","t":67000,"v":1.02},{"s":"OTC7","t":68000,"v":0.88},{"s":"OTC7","t":69000,"v":1.03},{"s":"OTC7","t":70000,"v":0.88},{"s":"OTC7","t":71000,"v":1.02},{"s":"OTC7","t":72000,"v":0.87},{"s":"OTC7","t":73000,"v":1.04},{"s":"OTC7","t":74000,"v":0.88},{"s":"OTC7","t":75000,"v":1.03},{"s":"OTC7","t":76000,"v":0.87},{"s":"OTC7","t":77000,"v":1.02},{"s":"OTC7","t":78000,"v":0.88},{"s":"OTC7","t":79000,"v":1.04},{"s":"OTC7","t":80000,"v":0.88},{"s":"OTC7","t":81000,"v":1.02},{"s":"OTC7","t":82000,"v":0.87},{"s":"OTC7","t":83000,"v":1.03},{"s":"OTC7","t":84000,"v":0.88},{"s":"OTC7","t":85000,"v":1.04},{"s":"OTC7","t":86000,"v":0.88},{"s":"OTC7","t":87000,"v":1.02},{"s":"OTC7","t":88000,"v":0.87},{"s":"OTC7","t":89000,"v":1.03},{"s":"OTC7","t":90000,"v":0.88},{"s":"OTC7","t":91000,"v":1.02},{"s":"OTC7","t":92000,"v":0.86},{"s":"OTC7","t":93000,"v":1.02},{"s":"OTC7","t":94000,"v":0.87},{"s":"OTC7","t":95000,"v":1.04},{"s":"OTC7","t":96000,"v":0.86},{"s":"OTC7","t":97000,"v":1.12},{"s":"OTC7","t":98000,"v":0.85},{"s":"OTC7","t":99000,"v":0.95},{"s":"OTC7","t":99500,"v":0.75},{"s":"OTC7","t":100000,"v":0.8},
{"s":"OTC8","t":0,"v":1.3},{"s":"OTC8","t":300,"v":0.6},{"s":"OTC8","t":600,"v":0.26},{"s":"OTC8","t":2000,"v":0.22},{"s":"OTC8","t":4000,"v":0.285},{"s":"OTC8","t":6000,"v":0.22},{"s":"OTC8","t":8000,"v":0.285},{"s":"OTC8","t":10000,"v":0.22},{"s":"OTC8","t":12000,"v":0.285},{"s":"OTC8","t":14000,"v":0.22},{"s":"OTC8","t":16000,"v":0.285},{"s":"OTC8","t":18000,"v":0.22},{"s":"OTC8","t":20000,"v":0.285},{"s":"OTC8","t":22000,"v":0.22},{"s":"OTC8","t":24000,"v":0.285},{"s":"OTC8","t":26000,"v":0.22},{"s":"OTC8","t":28000,"v":0.285},{"s":"OTC8","t":30000,"v":0.22},{"s":"OTC8","t":32000,"v":0.285},{"s":"OTC8","t":34000,"v":0.22},{"s":"OTC8","t":36000,"v":0.285},{"s":"OTC8","t":38000,"v":0.22},{"s":"OTC8","t":40000,"v":0.285},{"s":"OTC8","t":42000,"v":0.22},{"s":"OTC8","t":44000,"v":0.285},{"s":"OTC8","t":46000,"v":0.22},{"s":"OTC8","t":48000,"v":0.285},{"s":"OTC8","t":50000,"v":0.22},{"s":"OTC8","t":52000,"v":0.285},{"s":"OTC8","t":54000,"v":0.22},{"s":"OTC8","t":56000,"v":0.285},{"s":"OTC8","t":58000,"v":0.22},{"s":"OTC8","t":60000,"v":0.285},{"s":"OTC8","t":62000,"v":0.22},{"s":"OTC8","t":64000,"v":0.285},{"s":"OTC8","t":66000,"v":0.22},{"s":"OTC8","t":68000,"v":0.285},{"s":"OTC8","t":70000,"v":0.22},{"s":"OTC8","t":72000,"v":0.285},{"s":"OTC8","t":74000,"v":0.22},{"s":"OTC8","t":76000,"v":0.285},{"s":"OTC8","t":78000,"v":0.22},{"s":"OTC8","t":80000,"v":0.285},{"s":"OTC8","t":82000,"v":0.22},{"s":"OTC8","t":84000,"v":0.285},{"s":"OTC8","t":86000,"v":0.22},{"s":"OTC8","t":88000,"v":0.285},{"s":"OTC8","t":90000,"v":0.22},{"s":"OTC8","t":92000,"v":0.285},{"s":"OTC8","t":94000,"v":0.22},{"s":"OTC8","t":96000,"v":0.285},{"s":"OTC8","t":98000,"v":0.22},{"s":"OTC8","t":100000,"v":0.26}
],
"c":[
{"s":"CTC1","t":0,"v":1.5},{"s":"CTC1","t":300,"v":2.03},{"s":"CTC1","t":700,"v":1.5},{"s":"CTC1","t":1100,"v":0.9},{"s":"CTC1","t":1500,"v":1.0},{"s":"CTC1","t":2000,"v":0.8},{"s":"CTC1","t":2500,"v":1.02},{"s":"CTC1","t":3000,"v":0.82},{"s":"CTC1","t":3500,"v":0.98},{"s":"CTC1","t":4000,"v":0.85},{"s":"CTC1","t":4500,"v":1.07},{"s":"CTC1","t":5000,"v":0.8},{"s":"CTC1","t":5500,"v":1.0},{"s":"CTC1","t":6000,"v":0.82},{"s":"CTC1","t":6500,"v":0.95},{"s":"CTC1","t":7000,"v":0.78},{"s":"CTC1","t":7500,"v":0.9},{"s":"CTC1","t":8000,"v":0.58},{"s":"CTC1","t":8500,"v":0.72},{"s":"CTC1","t":9000,"v":0.56},{"s":"CTC1","t":9500,"v":0.7},{"s":"CTC1","t":10000,"v":0.58},{"s":"CTC1","t":10500,"v":0.72},{"s":"CTC1","t":11000,"v":0.55},{"s":"CTC1","t":11500,"v":0.7},{"s":"CTC1","t":12000,"v":0.58},{"s":"CTC1","t":12500,"v":0.74},{"s":"CTC1","t":13000,"v":0.6},{"s":"CTC1","t":13500,"v":0.78},{"s":"CTC1","t":14000,"v":0.58},{"s":"CTC1","t":14500,"v":0.72},{"s":"CTC1","t":15000,"v":0.55},{"s":"CTC1","t":15500,"v":0.68},{"s":"CTC1","t":16000,"v":0.3},{"s":"CTC1","t":20000,"v":0.28},{"s":"CTC1","t":25000,"v":0.3},{"s":"CTC1","t":30000,"v":0.27},{"s":"CTC1","t":35000,"v":0.3},{"s":"CTC1","t":40000,"v":0.28},{"s":"CTC1","t":45000,"v":0.3},{"s":"CTC1","t":50000,"v":0.28},{"s":"CTC1","t":55000,"v":0.3},{"s":"CTC1","t":60000,"v":0.28},{"s":"CTC1","t":65000,"v":0.3},{"s":"CTC1","t":70000,"v":0.28},{"s":"CTC1","t":75000,"v":0.29},{"s":"CTC1","t":80000,"v":0.28},{"s":"CTC1","t":85000,"v":0.33},{"s":"CTC1","t":90000,"v":0.28},{"s":"CTC1","t":95000,"v":0.3},{"s":"CTC1","t":100000,"v":0.28},
{"s":"CTC2","t":0,"v":0.38},{"s":"CTC2","t":500,"v":0.3},{"s":"CTC2","t":1000,"v":0.22},{"s":"CTC2","t":2000,"v":0.27},{"s":"CTC2","t":3000,"v":0.18},{"s":"CTC2","t":4000,"v":0.25},{"s":"CTC2","t":5000,"v":0.17},{"s":"CTC2","t":6000,"v":0.24},{"s":"CTC2","t":8000,"v":0.2},{"s":"CTC2","t":15000,"v":0.22},{"s":"CTC2","t":25000,"v":0.2},{"s":"CTC2","t":29000,"v":0.17},{"s":"CTC2","t":40000,"v":0.22},{"s":"CTC2","t":60000,"v":0.21},{"s":"CTC2","t":80000,"v":0.22},{"s":"CTC2","t":100000,"v":0.21},
{"s":"CTC3","t":0,"v":1.0},{"s":"CTC3","t":400,"v":1.8},{"s":"CTC3","t":800,"v":2.0},{"s":"CTC3","t":1200,"v":1.0},{"s":"CTC3","t":1600,"v":0.25},{"s":"CTC3","t":5000,"v":0.22},{"s":"CTC3","t":20000,"v":0.21},{"s":"CTC3","t":40000,"v":0.22},{"s":"CTC3","t":60000,"v":0.2},{"s":"CTC3","t":80000,"v":0.21},{"s":"CTC3","t":100000,"v":0.22},
{"s":"CTC4","t":0,"v":1.2},{"s":"CTC4","t":500,"v":0.9},{"s":"CTC4","t":1000,"v":0.5},{"s":"CTC4","t":1500,"v":0.3},{"s":"CTC4","t":2000,"v":0.45},{"s":"CTC4","t":2500,"v":0.35},{"s":"CTC4","t":3000,"v":0.55},{"s":"CTC4","t":3500,"v":0.8},{"s":"CTC4","t":4000,"v":0.45},{"s":"CTC4","t":4500,"v":0.5},{"s":"CTC4","t":5000,"v":0.3},{"s":"CTC4","t":5500,"v":0.4},{"s":"CTC4","t":6000,"v":0.25},{"s":"CTC4","t":10000,"v":0.24},{"s":"CTC4","t":30000,"v":0.25},{"s":"CTC4","t":50000,"v":0.23},{"s":"CTC4","t":70000,"v":0.24},{"s":"CTC4","t":100000,"v":0.23},
{"s":"CTC5","t":0,"v":0.4},{"s":"CTC5","t":1000,"v":0.3},{"s":"CTC5","t":1500,"v":0.8},{"s":"CTC5","t":2000,"v":1.3},{"s":"CTC5","t":2500,"v":1.75},{"s":"CTC5","t":3000,"v":1.4},{"s":"CTC5","t":3500,"v":1.95},{"s":"CTC5","t":4000,"v":1.5},{"s":"CTC5","t":4300,"v":1.88},{"s":"CTC5","t":4700,"v":1.2},{"s":"CTC5","t":5000,"v":0.9},{"s":"CTC5","t":5300,"v":1.3},{"s":"CTC5","t":5600,"v":1.85},{"s":"CTC5","t":6000,"v":1.6},{"s":"CTC5","t":6300,"v":1.92},{"s":"CTC5","t":6700,"v":1.3},{"s":"CTC5","t":7000,"v":0.9},{"s":"CTC5","t":7300,"v":1.55},{"s":"CTC5","t":7700,"v":0.6},{"s":"CTC5","t":8000,"v":0.33},{"s":"CTC5","t":10000,"v":0.3},{"s":"CTC5","t":12000,"v":0.32},{"s":"CTC5","t":15000,"v":0.28},{"s":"CTC5","t":30000,"v":0.27},{"s":"CTC5","t":50000,"v":0.26},{"s":"CTC5","t":70000,"v":0.27},{"s":"CTC5","t":100000,"v":0.27},
{"s":"CTC6","t":0,"v":0.3},{"s":"CTC6","t":2000,"v":0.2},{"s":"CTC6","t":8000,"v":0.17},{"s":"CTC6","t":10000,"v":0.2},{"s":"CTC6","t":12000,"v":0.17},{"s":"CTC6","t":14000,"v":0.2},{"s":"CTC6","t":16000,"v":0.17},{"s":"CTC6","t":18000,"v":0.2},{"s":"CTC6","t":20000,"v":0.17},{"s":"CTC6","t":22000,"v":0.2},{"s":"CTC6","t":24000,"v":0.17},{"s":"CTC6","t":26000,"v":0.2},{"s":"CTC6","t":28000,"v":0.17},{"s":"CTC6","t":29500,"v":0.2},{"s":"CTC6","t":40000,"v":0.21},{"s":"CTC6","t":50000,"v":0.2},{"s":"CTC6","t":59000,"v":0.17},{"s":"CTC6","t":61000,"v":0.2},{"s":"CTC6","t":63000,"v":0.17},{"s":"CTC6","t":65000,"v":0.2},{"s":"CTC6","t":75000,"v":0.21},{"s":"CTC6","t":85000,"v":0.17},{"s":"CTC6","t":87000,"v":0.2},{"s":"CTC6","t":89000,"v":0.17},{"s":"CTC6","t":90000,"v":0.2},{"s":"CTC6","t":100000,"v":0.21},
{"s":"CTC7","t":0,"v":0.8},{"s":"CTC7","t":300,"v":1.6},{"s":"CTC7","t":700,"v":1.2},{"s":"CTC7","t":1000,"v":0.8},{"s":"CTC7","t":1500,"v":0.65},{"s":"CTC7","t":2000,"v":0.9},{"s":"CTC7","t":2500,"v":0.6},{"s":"CTC7","t":3000,"v":0.85},{"s":"CTC7","t":3500,"v":0.55},{"s":"CTC7","t":4000,"v":0.8},{"s":"CTC7","t":4500,"v":0.6},{"s":"CTC7","t":5000,"v":0.9},{"s":"CTC7","t":5500,"v":0.65},{"s":"CTC7","t":6000,"v":1.05},{"s":"CTC7","t":6500,"v":0.6},{"s":"CTC7","t":7000,"v":0.85},{"s":"CTC7","t":7500,"v":0.55},{"s":"CTC7","t":8000,"v":0.27},{"s":"CTC7","t":10000,"v":0.31},{"s":"CTC7","t":12000,"v":0.24},{"s":"CTC7","t":14000,"v":0.31},{"s":"CTC7","t":16000,"v":0.24},{"s":"CTC7","t":18000,"v":0.31},{"s":"CTC7","t":20000,"v":0.24},{"s":"CTC7","t":22000,"v":0.31},{"s":"CTC7","t":24000,"v":0.24},{"s":"CTC7","t":26000,"v":0.31},{"s":"CTC7","t":28000,"v":0.24},{"s":"CTC7","t":30000,"v":0.31},{"s":"CTC7","t":32000,"v":0.24},{"s":"CTC7","t":34000,"v":0.32},{"s":"CTC7","t":36000,"v":0.24},{"s":"CTC7","t":38000,"v":0.31},{"s":"CTC7","t":40000,"v":0.24},{"s":"CTC7","t":42000,"v":0.31},{"s":"CTC7","t":44000,"v":0.24},{"s":"CTC7","t":46000,"v":0.31},{"s":"CTC7","t":48000,"v":0.24},{"s":"CTC7","t":50000,"v":0.31},{"s":"CTC7","t":52000,"v":0.24},{"s":"CTC7","t":54000,"v":0.31},{"s":"CTC7","t":56000,"v":0.24},{"s":"CTC7","t":58000,"v":0.32},{"s":"CTC7","t":60000,"v":0.24},{"s":"CTC7","t":62000,"v":0.31},{"s":"CTC7","t":64000,"v":0.24},{"s":"CTC7","t":66000,"v":0.31},{"s":"CTC7","t":68000,"v":0.24},{"s":"CTC7","t":70000,"v":0.31},{"s":"CTC7","t":72000,"v":0.24},{"s":"CTC7","t":74000,"v":0.31},{"s":"CTC7","t":76000,"v":0.24},{"s":"CTC7","t":78000,"v":0.31},{"s":"CTC7","t":80000,"v":0.24},{"s":"CTC7","t":82000,"v":0.31},{"s":"CTC7","t":84000,"v":0.24},{"s":"CTC7","t":86000,"v":0.31},{"s":"CTC7","t":88000,"v":0.24},{"s":"CTC7","t":90000,"v":0.31},{"s":"CTC7","t":92000,"v":0.24},{"s":"CTC7","t":94000,"v":0.31},{"s":"CTC7","t":96000,"v":0.24},{"s":"CTC7","t":97000,"v":0.16},{"s":"CTC7","t":98000,"v":0.3},{"s":"CTC7","t":100000,"v":0.26},
{"s":"CTC8","t":0,"v":0.95},{"s":"CTC8","t":300,"v":0.55},{"s":"CTC8","t":600,"v":1.0},{"s":"CTC8","t":900,"v":0.6},{"s":"CTC8","t":1200,"v":0.8},{"s":"CTC8","t":1500,"v":0.28},{"s":"CTC8","t":2000,"v":0.22},{"s":"CTC8","t":4000,"v":0.285},{"s":"CTC8","t":6000,"v":0.22},{"s":"CTC8","t":8000,"v":0.285},{"s":"CTC8","t":10000,"v":0.22},{"s":"CTC8","t":12000,"v":0.285},{"s":"CTC8","t":14000,"v":0.22},{"s":"CTC8","t":16000,"v":0.285},{"s":"CTC8","t":18000,"v":0.22},{"s":"CTC8","t":20000,"v":0.285},{"s":"CTC8","t":22000,"v":0.22},{"s":"CTC8","t":24000,"v":0.285},{"s":"CTC8","t":26000,"v":0.22},{"s":"CTC8","t":28000,"v":0.285},{"s":"CTC8","t":30000,"v":0.22},{"s":"CTC8","t":32000,"v":0.285},{"s":"CTC8","t":34000,"v":0.22},{"s":"CTC8","t":36000,"v":0.285},{"s":"CTC8","t":38000,"v":0.22},{"s":"CTC8","t":40000,"v":0.285},{"s":"CTC8","t":42000,"v":0.22},{"s":"CTC8","t":44000,"v":0.285},{"s":"CTC8","t":46000,"v":0.22},{"s":"CTC8","t":48000,"v":0.285},{"s":"CTC8","t":50000,"v":0.22},{"s":"CTC8","t":52000,"v":0.285},{"s":"CTC8","t":54000,"v":0.22},{"s":"CTC8","t":56000,"v":0.285},{"s":"CTC8","t":58000,"v":0.22},{"s":"CTC8","t":60000,"v":0.285},{"s":"CTC8","t":62000,"v":0.22},{"s":"CTC8","t":64000,"v":0.285},{"s":"CTC8","t":66000,"v":0.22},{"s":"CTC8","t":68000,"v":0.285},{"s":"CTC8","t":70000,"v":0.22},{"s":"CTC8","t":72000,"v":0.285},{"s":"CTC8","t":74000,"v":0.22},{"s":"CTC8","t":76000,"v":0.285},{"s":"CTC8","t":78000,"v":0.22},{"s":"CTC8","t":80000,"v":0.285},{"s":"CTC8","t":82000,"v":0.22},{"s":"CTC8","t":84000,"v":0.285},{"s":"CTC8","t":86000,"v":0.22},{"s":"CTC8","t":88000,"v":0.285},{"s":"CTC8","t":90000,"v":0.22},{"s":"CTC8","t":92000,"v":0.285},{"s":"CTC8","t":94000,"v":0.22},{"s":"CTC8","t":96000,"v":0.285},{"s":"CTC8","t":98000,"v":0.22},{"s":"CTC8","t":100000,"v":0.26}
],
"d":[
{"s":"GO-TTC","t":0,"v":0},{"s":"GO-TTC","t":300,"v":-100},{"s":"GO-TTC","t":700,"v":-200},{"s":"GO-TTC","t":1000,"v":-250},{"s":"GO-TTC","t":1500,"v":-300},{"s":"GO-TTC","t":2000,"v":-350},{"s":"GO-TTC","t":2500,"v":-380},{"s":"GO-TTC","t":3000,"v":-400},{"s":"GO-TTC","t":3500,"v":-430},{"s":"GO-TTC","t":4000,"v":-440},{"s":"GO-TTC","t":4500,"v":-470},{"s":"GO-TTC","t":5000,"v":-455},{"s":"GO-TTC","t":5500,"v":-490},{"s":"GO-TTC","t":6000,"v":-470},{"s":"GO-TTC","t":6500,"v":-510},{"s":"GO-TTC","t":7000,"v":-490},{"s":"GO-TTC","t":7500,"v":-530},{"s":"GO-TTC","t":8000,"v":-500},{"s":"GO-TTC","t":8500,"v":-550},{"s":"GO-TTC","t":9000,"v":-520},{"s":"GO-TTC","t":10000,"v":-560},{"s":"GO-TTC","t":11000,"v":-515},{"s":"GO-TTC","t":12000,"v":-575},{"s":"GO-TTC","t":13000,"v":-520},{"s":"GO-TTC","t":14000,"v":-565},{"s":"GO-TTC","t":15000,"v":-510},{"s":"GO-TTC","t":16000,"v":-570},{"s":"GO-TTC","t":17000,"v":-525},{"s":"GO-TTC","t":18000,"v":-580},{"s":"GO-TTC","t":19000,"v":-530},{"s":"GO-TTC","t":20000,"v":-570},{"s":"GO-TTC","t":21000,"v":-535},{"s":"GO-TTC","t":22000,"v":-585},{"s":"GO-TTC","t":23000,"v":-540},{"s":"GO-TTC","t":24000,"v":-575},{"s":"GO-TTC","t":25000,"v":-535},{"s":"GO-TTC","t":26000,"v":-580},{"s":"GO-TTC","t":27000,"v":-545},{"s":"GO-TTC","t":28000,"v":-590},{"s":"GO-TTC","t":29000,"v":-620},{"s":"GO-TTC","t":30000,"v":-560},{"s":"GO-TTC","t":31000,"v":-600},{"s":"GO-TTC","t":32000,"v":-545},{"s":"GO-TTC","t":33000,"v":-595},{"s":"GO-TTC","t":34000,"v":-550},{"s":"GO-TTC","t":35000,"v":-600},{"s":"GO-TTC","t":36000,"v":-530},{"s":"GO-TTC","t":37000,"v":-490},{"s":"GO-TTC","t":38000,"v":-560},{"s":"GO-TTC","t":39000,"v":-600},{"s":"GO-TTC","t":39700,"v":-630},{"s":"GO-TTC","t":40500,"v":-570},{"s":"GO-TTC","t":41000,"v":-610},{"s":"GO-TTC","t":42000,"v":-560},{"s":"GO-TTC","t":43000,"v":-610},{"s":"GO-TTC","t":44000,"v":-550},{"s":"GO-TTC","t":45000,"v":-605},{"s":"GO-TTC","t":46000,"v":-540},{"s":"GO-TTC","t":47000,"v":-600},{"s":"GO-TTC","t":48000,"v":-535},{"s":"GO-TTC","t":49000,"v":-595},{"s":"GO-TTC","t":50000,"v":-540},{"s":"GO-TTC","t":51000,"v":-600},{"s":"GO-TTC","t":52000,"v":-530},{"s":"GO-TTC","t":53000,"v":-590},{"s":"GO-TTC","t":54000,"v":-540},{"s":"GO-TTC","t":55000,"v":-605},{"s":"GO-TTC","t":56000,"v":-545},{"s":"GO-TTC","t":57000,"v":-600},{"s":"GO-TTC","t":58000,"v":-520},{"s":"GO-TTC","t":59000,"v":-610},{"s":"GO-TTC","t":60000,"v":-545},{"s":"GO-TTC","t":61000,"v":-615},{"s":"GO-TTC","t":62000,"v":-550},{"s":"GO-TTC","t":63000,"v":-620},{"s":"GO-TTC","t":64000,"v":-545},{"s":"GO-TTC","t":65000,"v":-600},{"s":"GO-TTC","t":66000,"v":-530},{"s":"GO-TTC","t":67000,"v":-610},{"s":"GO-TTC","t":68000,"v":-545},{"s":"GO-TTC","t":69000,"v":-600},{"s":"GO-TTC","t":70000,"v":-520},{"s":"GO-TTC","t":71000,"v":-605},{"s":"GO-TTC","t":72000,"v":-545},{"s":"GO-TTC","t":73000,"v":-615},{"s":"GO-TTC","t":74000,"v":-550},{"s":"GO-TTC","t":75000,"v":-600},{"s":"GO-TTC","t":76000,"v":-545},{"s":"GO-TTC","t":77000,"v":-610},{"s":"GO-TTC","t":78000,"v":-550},{"s":"GO-TTC","t":79000,"v":-625},{"s":"GO-TTC","t":80000,"v":-560},{"s":"GO-TTC","t":81000,"v":-610},{"s":"GO-TTC","t":82000,"v":-545},{"s":"GO-TTC","t":83000,"v":-600},{"s":"GO-TTC","t":84000,"v":-540},{"s":"GO-TTC","t":85000,"v":-605},{"s":"GO-TTC","t":86000,"v":-535},{"s":"GO-TTC","t":87000,"v":-600},{"s":"GO-TTC","t":88000,"v":-545},{"s":"GO-TTC","t":89000,"v":-590},{"s":"GO-TTC","t":90000,"v":-530},{"s":"GO-TTC","t":91000,"v":-595},{"s":"GO-TTC","t":92000,"v":-540},{"s":"GO-TTC","t":93000,"v":-490},{"s":"GO-TTC","t":94000,"v":-585},{"s":"GO-TTC","t":95000,"v":-530},{"s":"GO-TTC","t":96000,"v":-590},{"s":"GO-TTC","t":97000,"v":-520},{"s":"GO-TTC","t":98000,"v":-575},{"s":"GO-TTC","t":99000,"v":-505},{"s":"GO-TTC","t":100000,"v":-540},
{"s":"GO-OTC","t":0,"v":-50},{"s":"GO-OTC","t":300,"v":-100},{"s":"GO-OTC","t":600,"v":-200},{"s":"GO-OTC","t":1000,"v":-280},{"s":"GO-OTC","t":1500,"v":-240},{"s":"GO-OTC","t":2000,"v":-300},{"s":"GO-OTC","t":2500,"v":-270},{"s":"GO-OTC","t":3000,"v":-330},{"s":"GO-OTC","t":3500,"v":-290},{"s":"GO-OTC","t":4000,"v":-370},{"s":"GO-OTC","t":4500,"v":-330},{"s":"GO-OTC","t":5000,"v":-400},{"s":"GO-OTC","t":5500,"v":-370},{"s":"GO-OTC","t":6000,"v":-430},{"s":"GO-OTC","t":6500,"v":-380},{"s":"GO-OTC","t":7000,"v":-440},{"s":"GO-OTC","t":7500,"v":-395},{"s":"GO-OTC","t":8000,"v":-450},{"s":"GO-OTC","t":8500,"v":-400},{"s":"GO-OTC","t":9000,"v":-440},{"s":"GO-OTC","t":10000,"v":-390},{"s":"GO-OTC","t":11000,"v":-445},{"s":"GO-OTC","t":12000,"v":-370},{"s":"GO-OTC","t":13000,"v":-420},{"s":"GO-OTC","t":13700,"v":-305},{"s":"GO-OTC","t":14300,"v":-400},{"s":"GO-OTC","t":15000,"v":-350},{"s":"GO-OTC","t":16000,"v":-430},{"s":"GO-OTC","t":17000,"v":-380},{"s":"GO-OTC","t":18000,"v":-460},{"s":"GO-OTC","t":19000,"v":-430},{"s":"GO-OTC","t":20000,"v":-490},{"s":"GO-OTC","t":21000,"v":-450},{"s":"GO-OTC","t":22000,"v":-510},{"s":"GO-OTC","t":23000,"v":-470},{"s":"GO-OTC","t":24000,"v":-520},{"s":"GO-OTC","t":25000,"v":-480},{"s":"GO-OTC","t":26000,"v":-525},{"s":"GO-OTC","t":27000,"v":-500},{"s":"GO-OTC","t":28000,"v":-540},{"s":"GO-OTC","t":29000,"v":-580},{"s":"GO-OTC","t":30000,"v":-620},{"s":"GO-OTC","t":30500,"v":-670},{"s":"GO-OTC","t":31000,"v":-630},{"s":"GO-OTC","t":32000,"v":-690},{"s":"GO-OTC","t":33000,"v":-630},{"s":"GO-OTC","t":34000,"v":-680},{"s":"GO-OTC","t":35000,"v":-625},{"s":"GO-OTC","t":36000,"v":-690},{"s":"GO-OTC","t":37000,"v":-635},{"s":"GO-OTC","t":38000,"v":-680},{"s":"GO-OTC","t":39000,"v":-620},{"s":"GO-OTC","t":40000,"v":-700},{"s":"GO-OTC","t":41000,"v":-640},{"s":"GO-OTC","t":42000,"v":-690},{"s":"GO-OTC","t":43000,"v":-630},{"s":"GO-OTC","t":44000,"v":-685},{"s":"GO-OTC","t":45000,"v":-625},{"s":"GO-OTC","t":46000,"v":-680},{"s":"GO-OTC","t":47000,"v":-620},{"s":"GO-OTC","t":48000,"v":-660},{"s":"GO-OTC","t":49000,"v":-570},{"s":"GO-OTC","t":50000,"v":-640},{"s":"GO-OTC","t":51000,"v":-680},{"s":"GO-OTC","t":52000,"v":-630},{"s":"GO-OTC","t":53000,"v":-690},{"s":"GO-OTC","t":54000,"v":-640},{"s":"GO-OTC","t":55000,"v":-695},{"s":"GO-OTC","t":56000,"v":-635},{"s":"GO-OTC","t":57000,"v":-690},{"s":"GO-OTC","t":58000,"v":-630},{"s":"GO-OTC","t":59000,"v":-700},{"s":"GO-OTC","t":60000,"v":-640},{"s":"GO-OTC","t":61000,"v":-710},{"s":"GO-OTC","t":62000,"v":-645},{"s":"GO-OTC","t":63000,"v":-700},{"s":"GO-OTC","t":64000,"v":-640},{"s":"GO-OTC","t":65000,"v":-695},{"s":"GO-OTC","t":66000,"v":-630},{"s":"GO-OTC","t":67000,"v":-700},{"s":"GO-OTC","t":68000,"v":-640},{"s":"GO-OTC","t":69000,"v":-690},{"s":"GO-OTC","t":70000,"v":-630},{"s":"GO-OTC","t":71000,"v":-700},{"s":"GO-OTC","t":72000,"v":-640},{"s":"GO-OTC","t":73000,"v":-690},{"s":"GO-OTC","t":74000,"v":-630},{"s":"GO-OTC","t":75000,"v":-700},{"s":"GO-OTC","t":76000,"v":-640},{"s":"GO-OTC","t":77000,"v":-695},{"s":"GO-OTC","t":78000,"v":-635},{"s":"GO-OTC","t":79000,"v":-705},{"s":"GO-OTC","t":80000,"v":-645},{"s":"GO-OTC","t":81000,"v":-700},{"s":"GO-OTC","t":82000,"v":-640},{"s":"GO-OTC","t":83000,"v":-710},{"s":"GO-OTC","t":84000,"v":-650},{"s":"GO-OTC","t":85000,"v":-700},{"s":"GO-OTC","t":86000,"v":-640},{"s":"GO-OTC","t":87000,"v":-728},{"s":"GO-OTC","t":88000,"v":-650},{"s":"GO-OTC","t":89000,"v":-700},{"s":"GO-OTC","t":90000,"v":-640},{"s":"GO-OTC","t":91000,"v":-690},{"s":"GO-OTC","t":92000,"v":-630},{"s":"GO-OTC","t":93000,"v":-685},{"s":"GO-OTC","t":94000,"v":-625},{"s":"GO-OTC","t":95000,"v":-690},{"s":"GO-OTC","t":96000,"v":-620},{"s":"GO-OTC","t":97000,"v":-675},{"s":"GO-OTC","t":98000,"v":-580},{"s":"GO-OTC","t":99000,"v":-680},{"s":"GO-OTC","t":100000,"v":-640},
{"s":"GO-CTC","t":0,"v":0},{"s":"GO-CTC","t":400,"v":-20},{"s":"GO-CTC","t":800,"v":-40},{"s":"GO-CTC","t":1200,"v":-30},{"s":"GO-CTC","t":1600,"v":-120},{"s":"GO-CTC","t":2000,"v":-270},{"s":"GO-CTC","t":2500,"v":-350},{"s":"GO-CTC","t":3000,"v":-380},{"s":"GO-CTC","t":3500,"v":-420},{"s":"GO-CTC","t":4000,"v":-400},{"s":"GO-CTC","t":4500,"v":-450},{"s":"GO-CTC","t":5000,"v":-430},{"s":"GO-CTC","t":5500,"v":-480},{"s":"GO-CTC","t":6000,"v":-460},{"s":"GO-CTC","t":6500,"v":-520},{"s":"GO-CTC","t":7000,"v":-490},{"s":"GO-CTC","t":7500,"v":-560},{"s":"GO-CTC","t":8000,"v":-600},{"s":"GO-CTC","t":8500,"v":-690},{"s":"GO-CTC","t":9000,"v":-630},{"s":"GO-CTC","t":9500,"v":-620},{"s":"GO-CTC","t":10000,"v":-660},{"s":"GO-CTC","t":11000,"v":-620},{"s":"GO-CTC","t":12000,"v":-670},{"s":"GO-CTC","t":13000,"v":-640},{"s":"GO-CTC","t":14000,"v":-700},{"s":"GO-CTC","t":15000,"v":-660},{"s":"GO-CTC","t":16000,"v":-730},{"s":"GO-CTC","t":17000,"v":-700},{"s":"GO-CTC","t":18000,"v":-760},{"s":"GO-CTC","t":19000,"v":-740},{"s":"GO-CTC","t":20000,"v":-790},{"s":"GO-CTC","t":20300,"v":-850},{"s":"GO-CTC","t":21000,"v":-760},{"s":"GO-CTC","t":22000,"v":-800},{"s":"GO-CTC","t":23000,"v":-740},{"s":"GO-CTC","t":24000,"v":-790},{"s":"GO-CTC","t":25000,"v":-700},{"s":"GO-CTC","t":25500,"v":-690},{"s":"GO-CTC","t":26000,"v":-750},{"s":"GO-CTC","t":27000,"v":-780},{"s":"GO-CTC","t":28000,"v":-740},{"s":"GO-CTC","t":29000,"v":-850},{"s":"GO-CTC","t":30000,"v":-770},{"s":"GO-CTC","t":31000,"v":-810},{"s":"GO-CTC","t":32000,"v":-760},{"s":"GO-CTC","t":33000,"v":-800},{"s":"GO-CTC","t":34000,"v":-750},{"s":"GO-CTC","t":35000,"v":-790},{"s":"GO-CTC","t":36000,"v":-730},{"s":"GO-CTC","t":37000,"v":-780},{"s":"GO-CTC","t":38000,"v":-720},{"s":"GO-CTC","t":39000,"v":-680},{"s":"GO-CTC","t":39500,"v":-760},{"s":"GO-CTC","t":40500,"v":-800},{"s":"GO-CTC","t":41000,"v":-760},{"s":"GO-CTC","t":42000,"v":-820},{"s":"GO-CTC","t":43000,"v":-770},{"s":"GO-CTC","t":44000,"v":-815},{"s":"GO-CTC","t":45000,"v":-765},{"s":"GO-CTC","t":46000,"v":-810},{"s":"GO-CTC","t":47000,"v":-760},{"s":"GO-CTC","t":48000,"v":-820},{"s":"GO-CTC","t":49000,"v":-770},{"s":"GO-CTC","t":50000,"v":-810},{"s":"GO-CTC","t":51000,"v":-760},{"s":"GO-CTC","t":52000,"v":-825},{"s":"GO-CTC","t":53000,"v":-770},{"s":"GO-CTC","t":54000,"v":-815},{"s":"GO-CTC","t":55000,"v":-760},{"s":"GO-CTC","t":56000,"v":-865},{"s":"GO-CTC","t":57000,"v":-780},{"s":"GO-CTC","t":58000,"v":-830},{"s":"GO-CTC","t":59000,"v":-775},{"s":"GO-CTC","t":60000,"v":-840},{"s":"GO-CTC","t":60700,"v":-855},{"s":"GO-CTC","t":61500,"v":-790},{"s":"GO-CTC","t":62000,"v":-830},{"s":"GO-CTC","t":63000,"v":-775},{"s":"GO-CTC","t":64000,"v":-820},{"s":"GO-CTC","t":65000,"v":-770},{"s":"GO-CTC","t":66000,"v":-815},{"s":"GO-CTC","t":67000,"v":-760},{"s":"GO-CTC","t":68000,"v":-810},{"s":"GO-CTC","t":69000,"v":-770},{"s":"GO-CTC","t":70000,"v":-820},{"s":"GO-CTC","t":71000,"v":-760},{"s":"GO-CTC","t":72000,"v":-815},{"s":"GO-CTC","t":73000,"v":-770},{"s":"GO-CTC","t":74000,"v":-820},{"s":"GO-CTC","t":75000,"v":-760},{"s":"GO-CTC","t":76000,"v":-740},{"s":"GO-CTC","t":77000,"v":-710},{"s":"GO-CTC","t":78000,"v":-780},{"s":"GO-CTC","t":79000,"v":-760},{"s":"GO-CTC","t":80000,"v":-820},{"s":"GO-CTC","t":81000,"v":-770},{"s":"GO-CTC","t":82000,"v":-830},{"s":"GO-CTC","t":83000,"v":-780},{"s":"GO-CTC","t":84000,"v":-835},{"s":"GO-CTC","t":85000,"v":-770},{"s":"GO-CTC","t":86000,"v":-825},{"s":"GO-CTC","t":87000,"v":-775},{"s":"GO-CTC","t":88000,"v":-840},{"s":"GO-CTC","t":88400,"v":-872},{"s":"GO-CTC","t":89000,"v":-790},{"s":"GO-CTC","t":90000,"v":-830},{"s":"GO-CTC","t":91000,"v":-780},{"s":"GO-CTC","t":92000,"v":-825},{"s":"GO-CTC","t":93000,"v":-770},{"s":"GO-CTC","t":94000,"v":-815},{"s":"GO-CTC","t":95000,"v":-760},{"s":"GO-CTC","t":96000,"v":-820},{"s":"GO-CTC","t":97000,"v":-770},{"s":"GO-CTC","t":98000,"v":-810},{"s":"GO-CTC","t":99000,"v":-760},{"s":"GO-CTC","t":100000,"v":-800}
]
},
"spacing":-8,
"resolve":{"scale":{"color":"independent","strokeWidth":"independent"},"legend":{"color":"independent"}},
"vconcat":[
{"resolve":{"scale":{"color":"independent","strokeWidth":"independent"},"legend":{"color":"independent"}},"hconcat":[
{"width":258,"height":197,"title":{"text":"a.","dy":25},"data":{"name":"a"},"mark":{"type":"line","clip":true},
"encoding":{
"x":{"field":"t","type":"quantitative","scale":{"domain":[-430,110160],"nice":false,"zero":false},"axis":{"title":"Time (ps)","values":[0,10000,20000,30000,40000,50000,60000,70000,80000,90000,100000],"labelExpr":"datum.value % 20000 == 0 ? format(datum.value,'d') : ''"}},
"y":{"field":"v","type":"quantitative","scale":{"domain":[0,2.4],"nice":false},"axis":{"title":"Distance (nm)","values":[0,0.2,0.4,0.6,0.8,1,1.2,1.4,1.6,1.8,2,2.2,2.4],"labelExpr":"round(datum.value*10) % 4 == 0 ? format(datum.value,'.1f') : ''"}},
"color":{"field":"s","type":"nominal","scale":{"domain":["TTC1","TTC2","TTC3","TTC4","TTC5","TTC6","TTC7","TTC8"],"range":["#ff2a2a","#66e62a","#2b4fe0","#7ff0d4","#111111","#5a50e6","#ff2bd0","#ff8030"]},"legend":{"title":null}},
"strokeWidth":{"condition":[{"test":"datum.s=='TTC8'","value":3},{"test":"datum.s=='TTC7'","value":1.5}],"value":1}
}},
{"width":259,"height":197,"title":{"text":"b.","dy":25,"dx":-9},"data":{"name":"b"},"mark":{"type":"line","clip":true},
"encoding":{
"x":{"field":"t","type":"quantitative","scale":{"domain":[-430,110870],"nice":false,"zero":false},"axis":{"title":"Time (ps)","values":[0,10000,20000,30000,40000,50000,60000,70000,80000,90000,100000],"labelExpr":"datum.value % 20000 == 0 ? format(datum.value,'d') : ''"}},
"y":{"field":"v","type":"quantitative","scale":{"domain":[0,2.4],"nice":false},"axis":{"title":"Distance (nm)","values":[0,0.2,0.4,0.6,0.8,1,1.2,1.4,1.6,1.8,2,2.2,2.4],"labelExpr":"round(datum.value*10) % 4 == 0 ? format(datum.value,'.1f') : ''"}},
"color":{"field":"s","type":"nominal","scale":{"domain":["OTC1","OTC2","OTC3","OTC4","OTC5","OTC6","OTC7","OTC8"],"range":["#ff2a2a","#66e62a","#2b4fe0","#7ff0d4","#111111","#5a50e6","#ff2bd0","#ff8030"]},"legend":{"title":null}},
"strokeWidth":{"condition":[{"test":"datum.s=='OTC8'","value":3},{"test":"datum.s=='OTC7'","value":1.5}],"value":1}
}}
],"spacing":43},
{"resolve":{"scale":{"color":"independent","strokeWidth":"independent"},"legend":{"color":"independent"}},"hconcat":[
{"width":258,"height":196,"title":{"text":"c.","dy":14},"data":{"name":"c"},"mark":{"type":"line","clip":true},
"encoding":{
"x":{"field":"t","type":"quantitative","scale":{"domain":[-430,110160],"nice":false,"zero":false},"axis":{"title":"Time (ps)","values":[0,10000,20000,30000,40000,50000,60000,70000,80000,90000,100000],"labelExpr":"datum.value % 20000 == 0 ? format(datum.value,'d') : ''"}},
"y":{"field":"v","type":"quantitative","scale":{"domain":[0,2.4],"nice":false},"axis":{"title":"Distance (nm)","values":[0,0.2,0.4,0.6,0.8,1,1.2,1.4,1.6,1.8,2,2.2,2.4],"labelExpr":"round(datum.value*10) % 4 == 0 ? format(datum.value,'.1f') : ''"}},
"color":{"field":"s","type":"nominal","scale":{"domain":["CTC1","CTC2","CTC3","CTC4","CTC5","CTC6","CTC7","CTC8"],"range":["#ff2a2a","#66e62a","#2b4fe0","#7ff0d4","#111111","#5a50e6","#ff2bd0","#ff8030"]},"legend":{"title":null}},
"strokeWidth":{"condition":[{"test":"datum.s=='CTC8'","value":3},{"test":"datum.s=='CTC7'","value":1.5}],"value":1}
}},
{"width":259,"height":196,"title":{"text":"d.","dy":14,"dx":-3},"data":{"name":"d"},"mark":{"type":"line","clip":true},
"encoding":{
"x":{"field":"t","type":"quantitative","scale":{"domain":[-2000,110600],"nice":false,"zero":false},"axis":{"title":"Time (ps)","values":[0,10000,20000,30000,40000,50000,60000,70000,80000,90000,100000],"labelExpr":"datum.value == 0 ? '0.0' : datum.value == 100000 ? '1.0x10⁵' : datum.value % 20000 == 0 ? format(datum.value/10000,'.1f') + 'x10⁴' : ''"}},
"y":{"field":"v","type":"quantitative","scale":{"domain":[-1000,0],"nice":false},"axis":{"title":"Potential Energy (kJ/mol)","values":[-1000,-900,-800,-700,-600,-500,-400,-300,-200,-100,0],"format":"d","minExtent":28,"maxExtent":28,"titlePadding":12}},
"color":{"field":"s","type":"nominal","scale":{"domain":["GO-TTC","GO-OTC","GO-CTC"],"range":["#ff2a2a","#5de81c","#2f5fe0"]},"legend":{"title":null,"labelFontSize":12.5,"symbolSize":196,"labelOffset":10,"offset":13}}
}}
],"spacing":40}
]
}
